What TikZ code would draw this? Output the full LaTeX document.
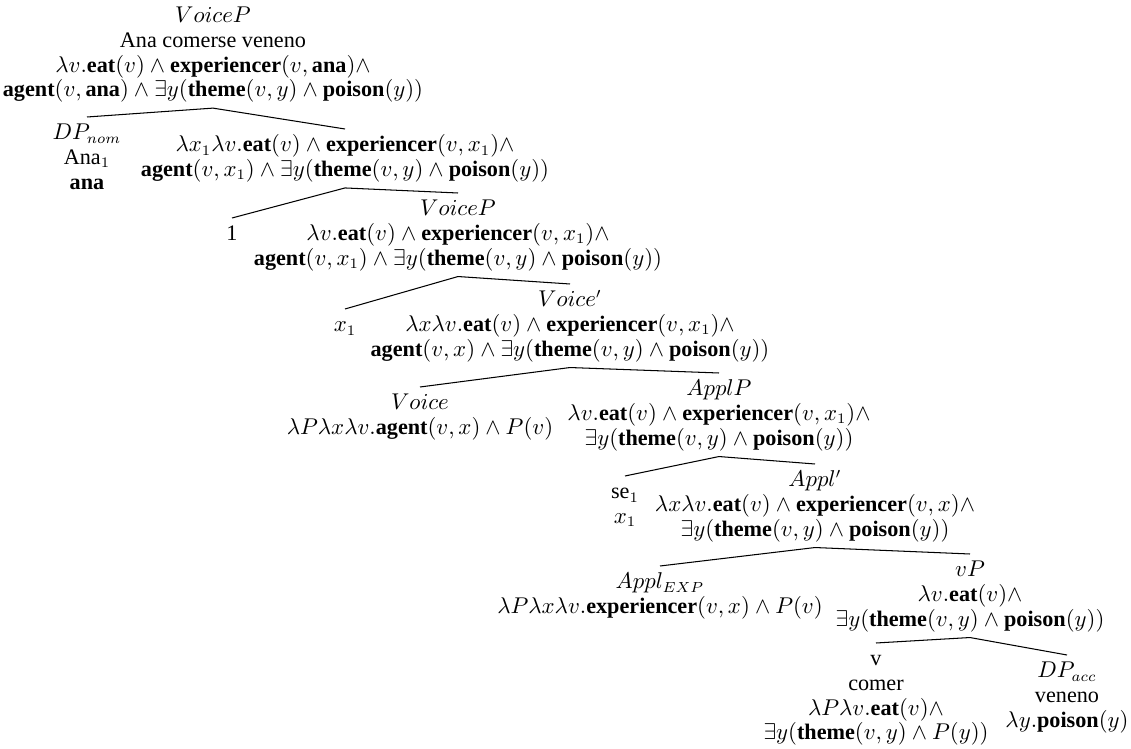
\documentclass[tikz,border=0pt]{standalone}
\usepackage{fontspec}
\setmainfont{Liberation Serif}
\newcommand{\bt}[1]{\textbf{#1}}
\newcommand{\tS}{\rule{0pt}{8.8pt}}
\newcommand{\bS}{\rule[-3.3pt]{0pt}{3.3pt}}
\tikzset{
  tn/.style={align=center, inner sep=2pt, anchor=north, font=\fontsize{10.65}{11.8}\selectfont},
  br/.style={line width=0.5pt}
}
\begin{document}
\begin{tikzpicture}[x=0.48pt,y=-0.48pt]
\useasboundingbox (0,0) rectangle (1131,749);
\node[tn] (root) at (213,0) {\tS$VoiceP$\\ Ana comerse veneno\\ $\lambda v.\bt{eat}(v)\wedge\bt{experiencer}(v,\bt{ana})\wedge$\\ $\bt{agent}(v,\bt{ana})\wedge\exists y(\bt{theme}(v,y)\wedge\bt{poison}(y))$\bS};
\node[tn] (dpnom) at (87,117) {\tS$DP_{nom}$\\ Ana$_1$\\ \bt{ana}\bS};
\node[tn] (r1) at (345,129) {\tS$\lambda x_1\lambda v.\bt{eat}(v)\wedge\bt{experiencer}(v,x_1)\wedge$\\ $\bt{agent}(v,x_1)\wedge\exists y(\bt{theme}(v,y)\wedge\bt{poison}(y))$\bS};
\node[tn] (one) at (232,218) {\tS 1\bS};
\node[tn] (vp2) at (458,193) {\tS$VoiceP$\\ $\lambda v.\bt{eat}(v)\wedge\bt{experiencer}(v,x_1)\wedge$\\ $\bt{agent}(v,x_1)\wedge\exists y(\bt{theme}(v,y)\wedge\bt{poison}(y))$\bS};
\node[tn] (xone) at (345,309) {\tS$x_1$\bS};
\node[tn] (voicebar) at (570,284) {\tS$Voice'$\\ $\lambda x\lambda v.\bt{eat}(v)\wedge\bt{experiencer}(v,x_1)\wedge$\\ $\bt{agent}(v,x)\wedge\exists y(\bt{theme}(v,y)\wedge\bt{poison}(y))$\bS};
\node[tn] (voice) at (420,387) {\tS$Voice$\\ $\lambda P\lambda x\lambda v.\bt{agent}(v,x)\wedge P(v)$\bS};
\node[tn] (applp) at (719,373) {\tS$ApplP$\\ $\lambda v.\bt{eat}(v)\wedge\bt{experiencer}(v,x_1)\wedge$\\ $\exists y(\bt{theme}(v,y)\wedge\bt{poison}(y))$\bS};
\node[tn] (se) at (625,476) {\tS se$_1$\\ $x_1$\bS};
\node[tn] (applbar) at (815,464) {\tS$Appl'$\\ $\lambda x\lambda v.\bt{eat}(v)\wedge\bt{experiencer}(v,x)\wedge$\\ $\exists y(\bt{theme}(v,y)\wedge\bt{poison}(y))$\bS};
\node[tn] (applexp) at (660,566) {\tS$Appl_{EXP}$\\ $\lambda P\lambda x\lambda v.\bt{experiencer}(v,x)\wedge P(v)$\bS};
\node[tn] (vp) at (970,554) {\tS$vP$\\ $\lambda v.\bt{eat}(v)\wedge$\\ $\exists y(\bt{theme}(v,y)\wedge\bt{poison}(y))$\bS};
\node[tn] (v) at (876,643) {\tS v\\ comer\\ $\lambda P\lambda v.\bt{eat}(v)\wedge$\\ $\exists y(\bt{theme}(v,y)\wedge P(y))$\bS};
\node[tn] (dpacc) at (1067,655) {\tS$DP_{acc}$\\ veneno\\ $\lambda y.\bt{poison}(y)$\bS};
\draw[br] (dpnom.north) -- (root.south) -- (r1.north);
\draw[br] (one.north) -- (r1.south) -- (vp2.north);
\draw[br] (xone.north) -- (vp2.south) -- (voicebar.north);
\draw[br] (voice.north) -- (voicebar.south) -- (applp.north);
\draw[br] (se.north) -- (applp.south) -- (applbar.north);
\draw[br] (applexp.north) -- (applbar.south) -- (vp.north);
\draw[br] (v.north) -- (vp.south) -- (dpacc.north);
\end{tikzpicture}
\end{document}
